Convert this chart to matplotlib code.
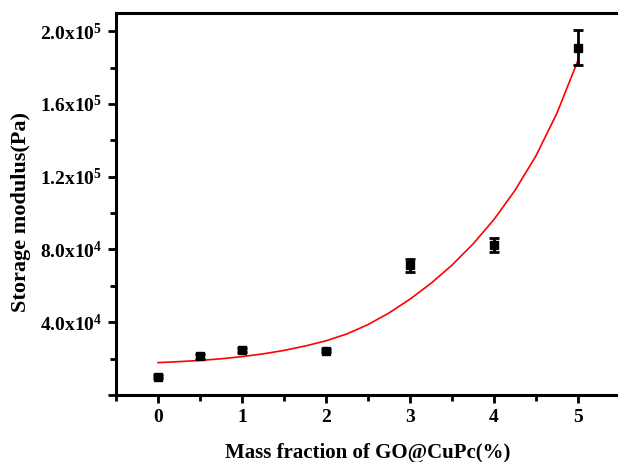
import numpy as np
import matplotlib
matplotlib.use("Agg")
import matplotlib.pyplot as plt
from matplotlib.ticker import MultipleLocator, FuncFormatter

plt.rcParams["font.family"] = "Liberation Serif"
plt.rcParams["font.weight"] = "bold"
plt.rcParams["mathtext.fontset"] = "custom"
plt.rcParams["mathtext.rm"] = "Liberation Serif:bold"
plt.rcParams["mathtext.default"] = "rm"

# measured points
mass_frac = [0, 0.5, 1, 2, 3, 4, 5]
modulus = [10.1e3, 21.2e3, 24.8e3, 24.4e3, 71.3e3, 82.5e3, 191e3]
modulus_err = [0.8e3, 1.2e3, 1.2e3, 1.0e3, 3.5e3, 4.0e3, 9.5e3]

# fitted curve
fit_x = [0, 0.25, 0.5, 0.75, 1, 1.25, 1.5, 1.75, 2, 2.25, 2.5, 2.75,
         3, 3.25, 3.5, 3.75, 4, 4.25, 4.5, 4.75, 5]
fit_y = [17.8e3, 18.35e3, 19.0e3, 19.9e3, 21.1e3, 22.6e3, 24.5e3, 26.9e3,
         29.8e3, 33.6e3, 38.7e3, 45.1e3, 52.7e3, 61.4e3, 71.4e3, 83.0e3,
         96.5e3, 112.5e3, 131.5e3, 155e3, 184e3]


def sci_label(v, pos):
    if v <= 0:
        return ""
    exp = int(np.floor(np.log10(v)))
    return f"{v / 10 ** exp:.1f}x10$^{{{exp}}}$"


fig = plt.figure(figsize=(6.18, 4.62), dpi=100)
ax = fig.add_axes([116 / 618, 1 - 395 / 462, 504 / 618, 382 / 462])

ax.plot(fit_x, fit_y, color="red", linewidth=1.2, zorder=2)
ax.errorbar(mass_frac, modulus, yerr=modulus_err, fmt="s", color="black",
            markersize=6, elinewidth=2, capsize=3.5, capthick=2, zorder=3)

ax.set_xlim(-0.5, 5.5)
ax.set_ylim(0, 2.1e5)
ax.xaxis.set_major_locator(MultipleLocator(1))
ax.xaxis.set_minor_locator(MultipleLocator(0.5))
ax.yaxis.set_major_locator(MultipleLocator(4e4))
ax.yaxis.set_minor_locator(MultipleLocator(2e4))
ax.yaxis.set_major_formatter(FuncFormatter(sci_label))

for s in ax.spines.values():
    s.set_linewidth(2.2)
ax.tick_params(which="major", direction="out", length=6, width=2,
               labelsize=14, pad=4)
ax.tick_params(which="minor", direction="out", length=4, width=2)
for lab in ax.get_xticklabels() + ax.get_yticklabels():
    lab.set_fontweight("bold")

ax.set_xlabel("Mass fraction of GO@CuPc(%)", fontsize=15, fontweight="bold",
              labelpad=12)
ax.set_ylabel("Storage modulus(Pa)", fontsize=16, fontweight="bold",
              va="center")
ax.yaxis.set_label_coords(-0.188, 0.479)

fig.savefig("out.png", dpi=100)
